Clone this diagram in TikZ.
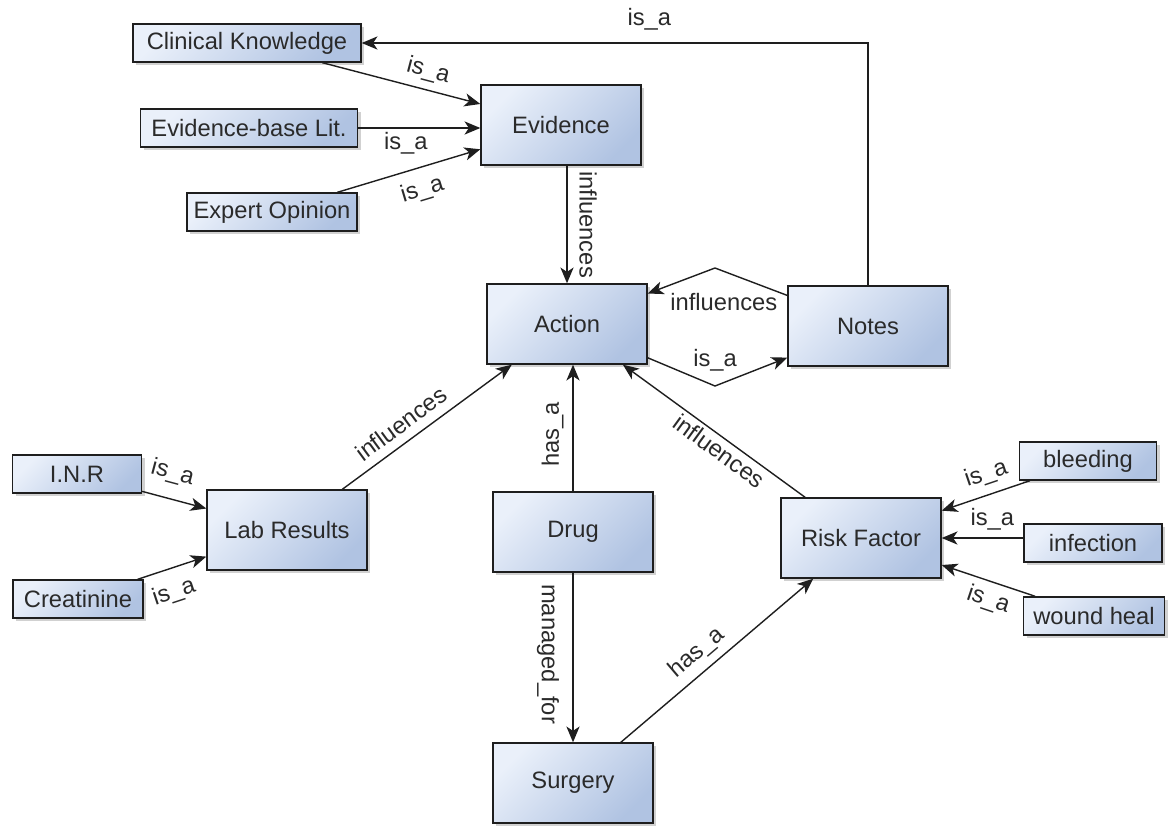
\documentclass[tikz,border=0pt]{standalone}
\usepackage{fontspec}
\setmainfont{Liberation Sans}
\usetikzlibrary{arrows.meta,positioning,shadows}
\definecolor{Ink}{HTML}{1E1E1E}
\definecolor{TextGrey}{HTML}{2A2A2A}
\definecolor{BoxLight}{HTML}{EAF0FA}
\definecolor{BoxDark}{HTML}{B0C3E2}

\begin{document}
\begin{tikzpicture}[x=0.02cm,y=-0.02cm,
  box/.style={draw=Ink,line width=0.8pt,top color=BoxLight,bottom color=BoxDark,
    shading angle=45,drop shadow={shadow xshift=1.8pt,shadow yshift=-1.8pt,opacity=0.3,fill=black!60},
    font=\fontsize{13.5}{16}\selectfont,text=TextGrey,inner sep=0pt},
  bigbox/.style={box,minimum width=3.2cm,minimum height=1.6cm},
  smallbox/.style={box,minimum height=0.76cm},
  lbl/.style={font=\fontsize{13.5}{16}\selectfont,text=TextGrey,inner sep=2pt},
  arr/.style={-{Stealth[length=9pt,width=7.5pt,inset=2.5pt]},line width=0.8pt,draw=Ink}
]
  \useasboundingbox (0,0) rectangle (1172,825);

  % main concepts
  \node[bigbox] (evid)  at (561,125) {Evidence};
  \node[bigbox] (act)   at (567,324) {Action};
  \node[bigbox] (notes) at (868,326) {Notes};
  \node[bigbox] (lab)   at (287,530) {Lab Results};
  \node[bigbox] (drug)  at (573,532) {Drug};
  \node[bigbox] (risk)  at (861,538) {Risk Factor};
  \node[bigbox] (surg)  at (573,783) {Surgery};

  % evidence sources
  \node[smallbox,minimum width=4.56cm] (ck)  at (247,43)  {Clinical Knowledge};
  \node[smallbox,minimum width=4.34cm] (ebl) at (249,128) {Evidence-base Lit.};
  \node[smallbox,minimum width=3.40cm] (eo)  at (272,212) {Expert Opinion};

  % lab values
  \node[smallbox,minimum width=2.58cm] (inr)   at (77,474) {I.N.R};
  \node[smallbox,minimum width=2.60cm] (creat) at (78,599) {Creatinine};

  % risk factors
  \node[smallbox,minimum width=2.74cm] (bleed) at (1088,461) {bleeding};
  \node[smallbox,minimum width=2.76cm] (infec) at (1093,543) {infection};
  \node[smallbox,minimum width=2.82cm] (wound) at (1094,616) {wound heal};

  % bends between action and notes
  \coordinate (bendhi) at (715,268);
  \coordinate (bendlo) at (715,386);

  % edges into evidence
  \draw[arr] (notes.north) |- (ck.east) node[lbl,pos=0.716,above=5pt] {is\_a};
  \draw[arr] (ck) -- (evid) node[lbl,sloped,pos=0.64,above=2pt] {is\_a};
  \draw[arr] (ebl) -- (ebl -| evid.west) node[lbl,pos=0.39,below] {is\_a};
  \draw[arr] (eo) -- (evid) node[lbl,sloped,pos=0.55,below=4pt] {is\_a};

  % edges into action
  \draw[arr] (act.north |- evid.south) -- (act.north)
    node[lbl,midway,rotate=-90,anchor=south,outer sep=5pt] {influences};
  \draw[arr] (notes) -- (bendhi) node[lbl,below=12pt,xshift=5pt] {influences} -- (act);
  \draw[arr] (act) -- (bendlo) node[lbl,above=6pt] {is\_a} -- (notes);
  \draw[arr] (lab) -- (act) node[lbl,sloped,pos=0.41,above=3pt] {influences};
  \draw[arr] (drug.north) -- (drug.north |- act.south) node[lbl,sloped,pos=0.45,above=3pt] {has\_a};
  \draw[arr] (risk) -- (act) node[lbl,sloped,pos=0.43,below] {influences};

  % lab values
  \draw[arr] (inr) -- (lab) node[lbl,sloped,pos=0.37,above=6pt] {is\_a};
  \draw[arr] (creat) -- (lab) node[lbl,sloped,pos=0.42,below=5pt] {is\_a};

  % drug, surgery and risk
  \draw[arr] (drug) -- (surg)
    node[lbl,pos=0.48,rotate=-90,anchor=north,outer sep=6pt] {managed\_for};
  \draw[arr] (surg) -- (risk) node[lbl,sloped,pos=0.46,above=2pt] {has\_a};
  \draw[arr] (bleed) -- (risk) node[lbl,sloped,pos=0.42,above=3pt] {is\_a};
  \draw[arr] (infec.west |- risk.east) -- (risk.east) node[lbl,pos=0.38,above=2pt] {is\_a};
  \draw[arr] (wound) -- (risk) node[lbl,sloped,pos=0.44,below=2pt] {is\_a};
\end{tikzpicture}
\end{document}
